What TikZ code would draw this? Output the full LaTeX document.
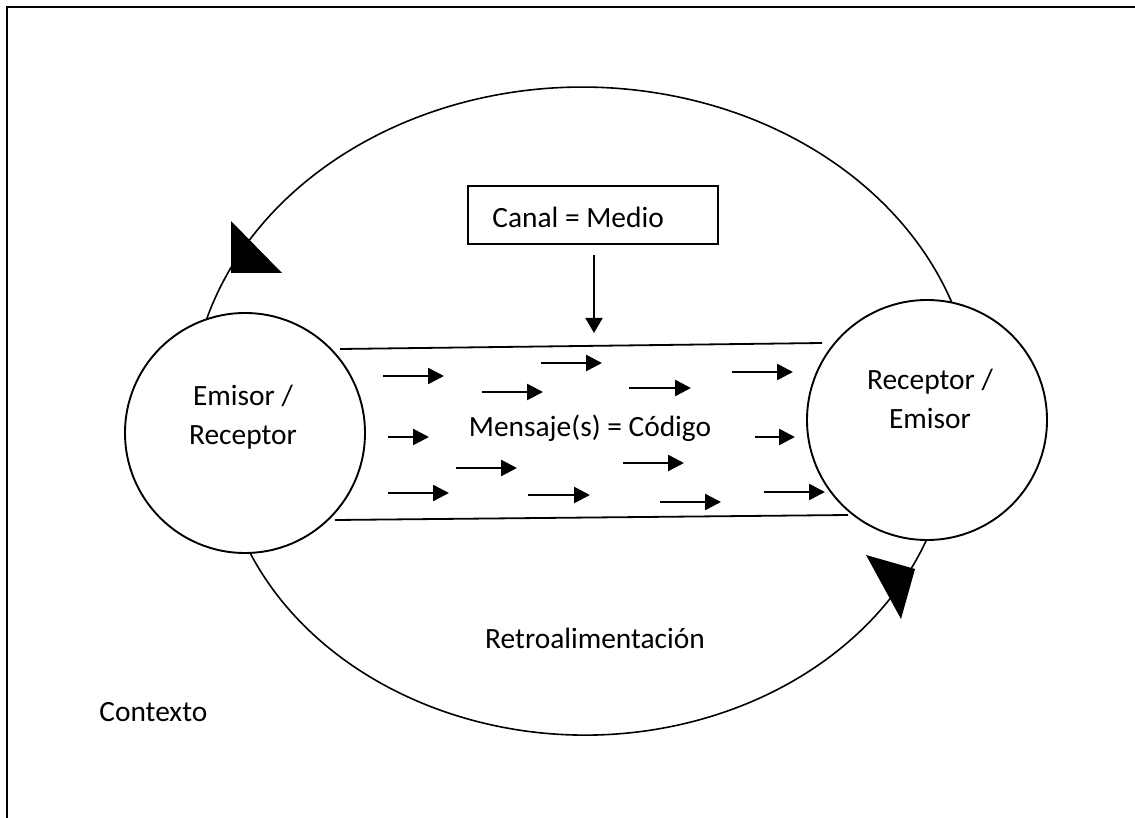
\documentclass[tikz,border=0pt]{standalone}
\usepackage{fontspec}
\setmainfont{Carlito}
\usetikzlibrary{arrows.meta}
\begin{document}
\begin{tikzpicture}[x=0.5pt,y=-0.5pt,
  lbl/.style={font=\fontsize{14.7}{19.5}\selectfont, inner sep=0pt, align=center},
  party/.style={circle, draw, line width=0.95pt, fill=white, minimum size=120pt, inner sep=0pt},
  flow/.style={line width=1.25pt, -{Triangle[length=8pt,width=8pt]}},
  loopline/.style={line width=0.8pt},
  chan/.style={line width=0.9pt},
  bighead/.style={fill=black}]
\useasboundingbox (0,0) rectangle (1135,818);

% page frame
\draw[line width=1pt] (7,818) -- (7,7) -- (1135,7);

% feedback loop: upper arc (towards the sender) and lower arc
\coordinate (fbTop) at (203,330);
\draw[loopline] (fbTop) arc[start angle=194.5, end angle=343.7, x radius=392, y radius=324];
\coordinate (fbBot) at (245.7,544.3);
\draw[loopline] (fbBot) arc[start angle=158, end angle=19, x radius=366, y radius=305];

% triangular heads on the loop
\fill[bighead] (231,221) -- (231,273) -- (282,273) -- cycle;
\fill[bighead] (866,555) -- (915,569) -- (901,619) -- cycle;

% the two parties
\node[party] (em) at (245,433) {};
\node[party] (re) at (927,420) {};
\node[lbl] (emText) at (243,417) {Emisor /\\Receptor};
\node[lbl] (reText) at (930,399) {Receptor /\\Emisor};

% channel borders
\coordinate (chTL) at (340,349);
\coordinate (chTR) at (822,343);
\coordinate (chBL) at (335,520);
\coordinate (chBR) at (848,515);
\draw[chan] (chTL) -- (chTR);
\draw[chan] (chBL) -- (chBR);

% messages travelling along the channel
\foreach \xa/\xb/\yy in {383/444/376, 482/543/392, 541/602/363, 629/691/388,
    732/793/372, 388/429/437, 755/795/437, 456/517/468, 623/684/463,
    388/449/493, 528/590/495, 660/721/502, 764/825/492}
  \draw[flow] (\xa,\yy) -- (\xb,\yy);

\node[lbl] (msg) at (590,428) {Mensaje(s) = Código};

% channel box, its label and its arrow
\node[draw, line width=0.8pt, minimum width=125pt, minimum height=29pt,
      inner sep=0pt] (canal) at (593,215) {};
\node[lbl, anchor=west] (canalText) at (492,217) {Canal = Medio};
\coordinate (canalTip) at (594,333);
\draw[line width=0.85pt, -{Triangle[length=7.5pt,width=8.5pt]}]
  ([yshift=-5pt,xshift=0.5pt]canal.south) -- (canalTip);

\node[lbl] (retro) at (595,638) {Retroalimentación};
\node[lbl, anchor=west] (ctx) at (99,712) {Contexto};
\end{tikzpicture}
\end{document}
